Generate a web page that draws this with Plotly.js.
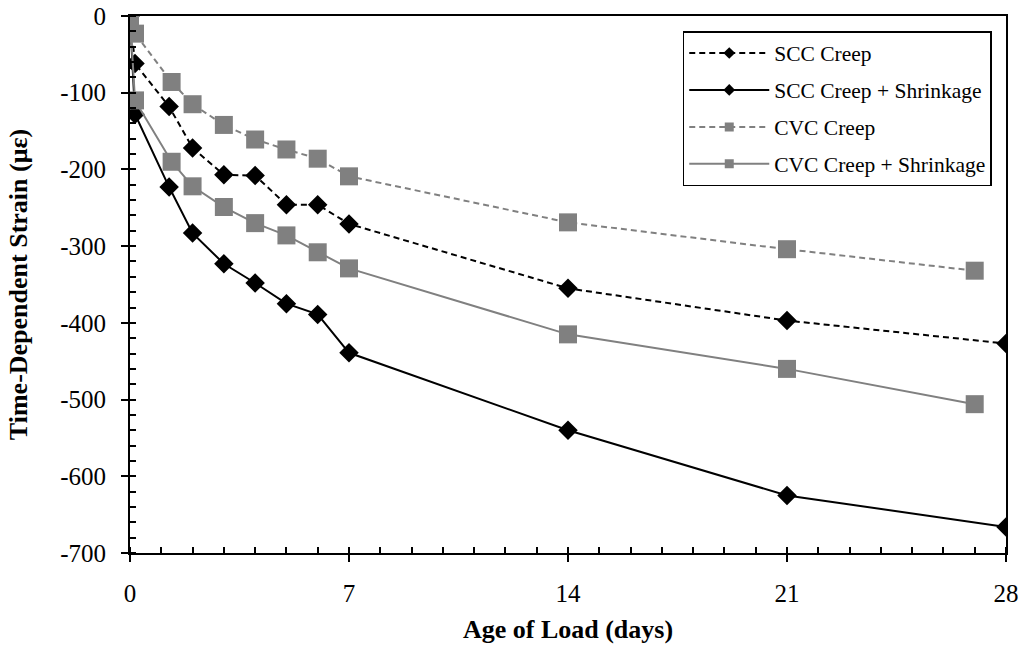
<!DOCTYPE html>
<html>
<head>
<meta charset="utf-8">
<script src="https://cdn.plot.ly/plotly-3.0.1.min.js"></script>
<style>html,body{margin:0;padding:0;background:#fff;}#chart{width:1023px;height:648px;}</style>
</head>
<body>
<div id="chart"></div>
<script>
// Data (days since loading, strain in microstrain)
const sccDays = [0, 0.16, 1.25, 2, 3, 4, 5, 6, 7, 14, 21, 28];
const sccCreep = [0, -62, -118, -172, -207, -208, -246, -246, -271, -355, -397, -427];
const sccCreepShrink = [0, -128, -223, -283, -323, -348, -375, -389, -439, -540, -625, -666];
const cvcDays = [0, 0.16, 1.33, 2, 3, 4, 5, 6, 7, 14, 21, 27];
const cvcCreep = [0, -23, -86, -115, -142, -161, -174, -186, -209, -269, -304, -332];
const cvcCreepShrink = [0, -110, -190, -222, -249, -270, -286, -308, -329, -415, -460, -506];
const seriesNames = ["SCC Creep", "SCC Creep + Shrinkage", "CVC Creep", "CVC Creep + Shrinkage"];
const xTickVals = [0, 7, 14, 21, 28];
const yTickVals = [0, -100, -200, -300, -400, -500, -600, -700];
const yTickText = ["0", "-100", "-200", "-300", "-400", "-500", "-600", "-700"];

const FONT = "Liberation Serif, Times New Roman, serif";
const GRAY = "#808080";
const DASH = "6px,4px";

const styles = [
  {color: "#000", dash: DASH, symbol: "diamond", size: 15, lsize: 9},
  {color: "#000", dash: "solid", symbol: "diamond", size: 15, lsize: 9},
  {color: GRAY, dash: DASH, symbol: "square", size: 18, lsize: 9},
  {color: GRAY, dash: "solid", symbol: "square", size: 18, lsize: 9}
];
const xs = [sccDays, sccDays, cvcDays, cvcDays];
const ys = [sccCreep, sccCreepShrink, cvcCreep, cvcCreepShrink];

const traces = [];
for (let i = 0; i < 4; i++) {
  const s = styles[i];
  traces.push({
    x: xs[i], y: ys[i], type: "scatter", mode: "lines+markers",
    name: seriesNames[i], showlegend: false,
    line: {color: s.color, width: 2, dash: s.dash},
    marker: {color: s.color, symbol: s.symbol, size: s.size, line: {width: 0}},
    hoverinfo: "skip"
  });
}
// legend-only entries (smaller markers)
for (let i = 0; i < 4; i++) {
  const s = styles[i];
  traces.push({
    x: [null], y: [null], type: "scatter", mode: "lines+markers",
    name: seriesNames[i], legendgroup: "g" + i,
    line: {color: s.color, width: 2, dash: s.dash},
    marker: {color: s.color, symbol: s.symbol, size: s.lsize, line: {width: 0}},
    hoverinfo: "skip"
  });
}
// overlay axes for inward halves of major ticks
traces.push({x: [null], y: [null], xaxis: "x2", yaxis: "y2", type: "scatter", mode: "markers", showlegend: false, hoverinfo: "skip"});

const layout = {
  width: 1023, height: 648,
  margin: {l: 130, r: 17, t: 16, b: 95},
  paper_bgcolor: "#fff", plot_bgcolor: "#fff",
  font: {family: FONT, color: "#000", size: 25},
  showlegend: true,
  xaxis: {
    range: [0, 28], tickvals: xTickVals, ticks: "outside", ticklen: 7, tickwidth: 2, tickcolor: "#000",
    showline: true, linewidth: 2, linecolor: "#000", mirror: true,
    showgrid: false, zeroline: false, ticklabelstandoff: 10,
    tickfont: {family: FONT, size: 25, color: "#000"},
    minor: {dtick: 1, tick0: 0, ticks: "inside", ticklen: 6, tickwidth: 2, tickcolor: "#000", showgrid: false},
    title: {text: "<b>Age of Load (days)</b>", font: {family: FONT, size: 26, color: "#000"}, standoff: 14}
  },
  yaxis: {
    range: [-700, 0], tickvals: yTickVals, ticktext: yTickText, ticks: "outside", ticklen: 7, tickwidth: 2, tickcolor: "#000",
    showline: true, linewidth: 2, linecolor: "#000", mirror: true,
    showgrid: false, zeroline: false, ticklabelstandoff: 10,
    tickfont: {family: FONT, size: 25, color: "#000"},
    minor: {dtick: 20, tick0: 0, ticks: "inside", ticklen: 6, tickwidth: 2, tickcolor: "#000", showgrid: false},
    title: {text: "<b>Time-Dependent Strain (με)</b>", font: {family: FONT, size: 26, color: "#000"}, standoff: 25}
  },
  xaxis2: {
    overlaying: "x", range: [0, 28], tickvals: xTickVals, ticks: "inside", ticklen: 6, tickwidth: 2, tickcolor: "#000",
    showticklabels: false, showgrid: false, zeroline: false, showline: false, side: "bottom"
  },
  yaxis2: {
    overlaying: "y", range: [-700, 0], tickvals: yTickVals, ticks: "inside", ticklen: 6, tickwidth: 2, tickcolor: "#000",
    showticklabels: false, showgrid: false, zeroline: false, showline: false, side: "left"
  },
  legend: {
    x: 0.631, y: 0.972, xanchor: "left", yanchor: "top",
    bgcolor: "#fff", bordercolor: "#000", borderwidth: 1.5,
    font: {family: FONT, size: 21.5, color: "#000"},
    itemwidth: 80, traceorder: "grouped", tracegroupgap: 6,
    itemclick: false, itemdoubleclick: false
  }
};

Plotly.newPlot("chart", traces, layout, {staticPlot: true, displayModeBar: false});
</script>
</body>
</html>
